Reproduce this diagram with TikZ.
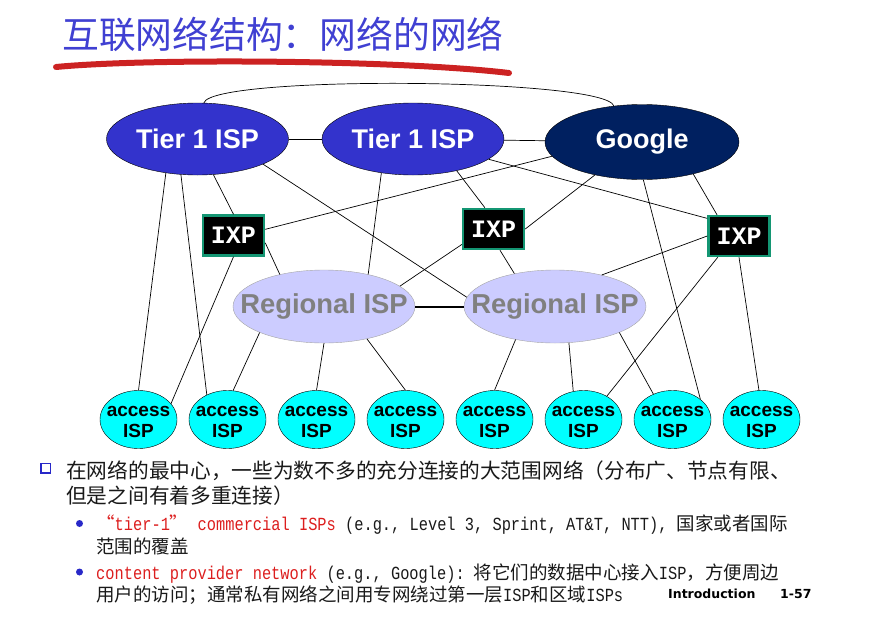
\documentclass[tikz,border=0pt]{standalone}
\usepackage{fontspec}
\setmainfont{Liberation Sans}
\newfontfamily\cjk{Noto Sans CJK SC}
\newfontfamily\ixpfont{Liberation Mono}
\newfontfamily\asciimono[FakeStretch=0.83]{Liberation Mono}
\newfontfamily\slidefoot{DejaVu Sans}
\usetikzlibrary{shapes.geometric, positioning, shadows}

\definecolor{tierblue}{RGB}{51,51,204}
\definecolor{cdnblue}{RGB}{0,32,96}
\definecolor{regfill}{RGB}{204,204,255}
\definecolor{accfill}{RGB}{0,255,255}
\definecolor{ixpedge}{RGB}{20,150,115}
\definecolor{titleblue}{RGB}{64,64,210}
\definecolor{strokered}{RGB}{204,34,34}
\definecolor{keyred}{RGB}{220,30,30}
\definecolor{bulletblue}{RGB}{40,40,200}

\newcommand{\zw}[1]{\makebox[0pt]{#1}}
\newcommand{\mono}[1]{{\asciimono #1}}
\newcommand{\hl}[1]{{\color{keyred}#1}}
\newcommand{\accesstext}{\zw{access}\rule{0pt}{16pt}\\\zw{ISP}}

\begin{document}
\begin{tikzpicture}[x=1pt, y=-1pt,
    tier/.style={ellipse, draw, fill=tierblue, text=white, minimum width=182pt,
                 minimum height=72pt, inner sep=0pt, font=\bfseries\fontsize{27}{30}\selectfont},
    cdn/.style={tier, fill=cdnblue, minimum width=194pt, minimum height=75pt},
    regional/.style={ellipse, draw=black!35, fill=regfill, text=black!50, minimum width=182pt,
                 minimum height=73pt, inner sep=0pt, font=\bfseries\fontsize{27.4}{30}\selectfont},
    access/.style={ellipse, draw, fill=accfill, minimum width=77pt, minimum height=58pt,
                 inner sep=0pt, align=center, font=\bfseries\fontsize{19}{21}\selectfont},
    ixp/.style={rectangle, draw=ixpedge, line width=2.5pt, fill=black, text=white,
                minimum width=61pt, minimum height=40pt, inner sep=0pt,
                font=\ixpfont\bfseries\fontsize{25}{28}\selectfont},
    link/.style={line width=0.7pt},
    txt/.style={anchor=base west, inner sep=0pt, text=black!90, font=\cjk\fontsize{20.7}{24}\selectfont},
    sub/.style={txt, font=\cjk\fontsize{18.5}{22}\selectfont},
    foot/.style={anchor=base west, inner sep=0pt, font=\slidefoot\bfseries\fontsize{12.5}{14}\selectfont},
    sqbullet/.style={draw=bulletblue, line width=1.5pt, fill=white, minimum size=9.5pt, inner sep=0pt,
                     drop shadow={shadow xshift=1.2pt, shadow yshift=-1.2pt, fill=black!30, opacity=1}},
    dot/.style={circle, fill=bulletblue, minimum size=7pt, inner sep=0pt}]
\useasboundingbox (0,0) rectangle (873,643);

% title
\node[anchor=west, inner sep=0pt, text=titleblue, font=\cjk\fontsize{36.8}{40}\selectfont]
    (title) at (62,34) {互联网络结构：网络的网络};
\draw[line width=6pt, line cap=round, strokered] (56,67) .. controls (150,58) and (400,60) .. (509,73);

% core
\node[tier] (t1a) at (197.5,139) {Tier 1 ISP};
\node[tier] (t1b) at (413,139) {Tier 1 ISP};
\node[cdn] (google) at (642,142) {Google};

\node[ixp] (ixp1) at (233.5,235.5) {IXP};
\node[ixp] (ixp2) at (493.5,229) {IXP};
\node[ixp] (ixp3) at (739,236) {IXP};

\node[regional] (reg1) at (324,306.5) {\zw{Regional ISP}};
\node[regional] (reg2) at (555,306.5) {\zw{Regional ISP}};

% access
\node[access] (acc1) at (138.5,419.5) {\accesstext};
\node[access] (acc2) at (227.5,419.5) {\accesstext};
\node[access] (acc3) at (316.5,419.5) {\accesstext};
\node[access] (acc4) at (405.5,419.5) {\accesstext};
\node[access] (acc5) at (494.5,419.5) {\accesstext};
\node[access] (acc6) at (583.5,419.5) {\accesstext};
\node[access] (acc7) at (672.5,419.5) {\accesstext};
\node[access] (acc8) at (761.5,419.5) {\accesstext};

% links
\draw[link] (t1a.80) .. controls +(8,-28) and +(-8,-28) .. (google.128);
\draw[link] (t1a) -- (t1b);
\draw[link] (t1b) -- (google);
\draw[link] (t1a.-133) -- (acc1.north);
\draw[link] (t1a.-115) -- (acc2.130);
\draw[link] (t1a.-66) -- (ixp1.north);
\draw[link] (t1a.-21) -- (reg2.174);
\draw[link] (ixp1.11) -- (google.-171);
\draw[link] (ixp1.south) -- (acc1.26);
\draw[link] (ixp1.-13) -- (reg1.144);
\draw[link] (t1b.-133) -- (reg1.36);
\draw[link] (t1b.-36) -- (ixp2.112);
\draw[link] (t1b.-15) -- (ixp3.151);
\draw[link] (ixp2.-154) -- (reg1.15);
\draw[link] (ixp2.-73) -- (reg2.141);
\draw[link] (google.-145) -- (ixp2.east);
\draw[link] (google.-88) -- (acc7.36);
\draw[link] (google.-32) -- (ixp3.136);
\draw[link] (ixp3.west) -- (reg2.34);
\draw[link] (ixp3.-135) -- (acc6.45);
\draw[link] (ixp3.south) -- (acc8.95);
\draw[link] (reg1.-158) -- (acc2.79);
\draw[link] (reg1.south) -- (acc3.north);
\draw[link] (reg1.-37) -- (acc4.north);
\draw[link] (reg2.-140) -- (acc5.north);
\draw[link] (reg2.-69) -- (acc6.110);
\draw[link] (reg2.-22) -- (acc7.127);
\draw[line width=2pt] (reg1) -- (reg2);

% notes
\node[sqbullet] (mark0) at (45.5,468) {};
\node[txt] (core1) at (66,478.5) {在网络的最中心，一些为数不多的充分连接的大范围网络（分布广、节点有限、};
\node[txt] (core2) at (66,503) {但是之间有着多重连接）};
\node[dot] (mark1) at (79.5,523.5) {};
\node[sub] (tiera) at (96,530.5) {\hl{“\mono{tier-1}”\mono{~commercial ISPs}}\mono{~(e.g., Level 3, Sprint, AT\&T, NTT),~}国家或者国际};
\node[sub] (tierb) at (96,553.5) {范围的覆盖};
\node[dot] (mark2) at (79.5,572) {};
\node[sub] (cpa) at (96,579) {\hl{\mono{content provider network}}\mono{~(e.g., Google):~}将它们的数据中心接入\mono{ISP}，方便周边};
\node[sub] (cpb) at (96,601) {用户的访问；通常私有网络之间用专网绕过第一层\mono{ISP}和区域\mono{ISPs}};
\node[foot] (chapter) at (668,598) {Introduction};
\node[foot] (page) at (780,598) {1-57};
\end{tikzpicture}
\end{document}
